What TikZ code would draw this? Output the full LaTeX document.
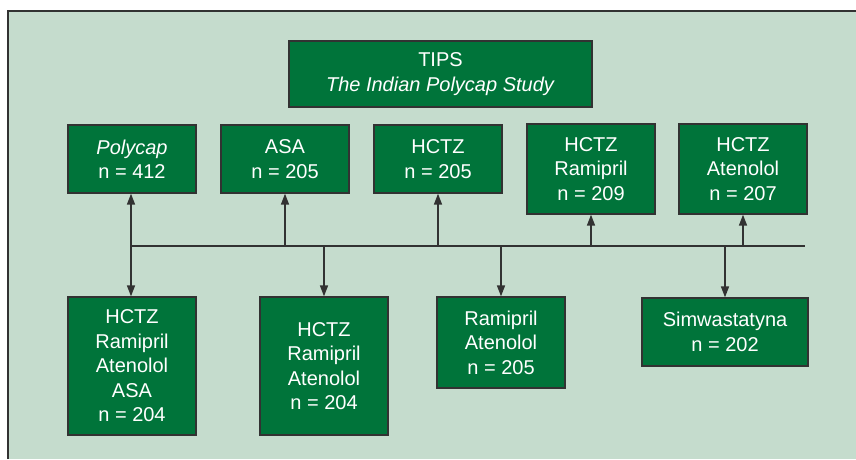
\documentclass[tikz,border=0pt]{standalone}
\usepackage{fontspec}
\setmainfont{Liberation Sans}
\usetikzlibrary{arrows.meta}
\definecolor{bgc}{RGB}{197,220,205}
\definecolor{boxg}{RGB}{0,116,58}
\definecolor{edge}{RGB}{50,50,50}
\tikzset{
  gbox/.style={draw=edge, line width=1.3pt, fill=boxg, text=white, align=center, inner sep=0pt,
    font=\fontsize{20}{24.5}\selectfont, minimum width=128pt},
  conn/.style={draw=edge, line width=1.6pt},
  arr/.style={conn, -{Triangle[length=11pt,width=8pt]}},
  darr/.style={conn, {Triangle[length=11pt,width=8pt]}-{Triangle[length=11pt,width=8pt]}}
}
\begin{document}
\begin{tikzpicture}[x=1pt,y=-1pt]
\useasboundingbox (0,0) rectangle (856,459);
\fill[bgc] (8,11) rectangle (856,459);
\draw[edge, line width=1.2pt] (8,459) -- (8,11) -- (856,11);

\node[gbox, minimum width=303pt, minimum height=66pt] (tips) at (440.5,74) {TIPS\\\textit{The Indian Polycap Study}};

\node[gbox, minimum height=68pt] (p1) at (132,159) {\textit{Polycap}\\n = 412};
\node[gbox, minimum height=68pt] (p2) at (285,159) {ASA\\n = 205};
\node[gbox, minimum height=68pt] (p3) at (438,159) {HCTZ\\n = 205};
\node[gbox, minimum height=90pt] (p4) at (591,169) {HCTZ\\Ramipril\\n = 209};
\node[gbox, minimum height=90pt] (p5) at (743,169) {HCTZ\\Atenolol\\n = 207};

\node[gbox, minimum height=138pt] (b1) at (132,366) {HCTZ\\Ramipril\\Atenolol\\ASA\\n = 204};
\node[gbox, minimum height=138pt] (b2) at (324,366) {HCTZ\\Ramipril\\Atenolol\\n = 204};
\node[gbox, minimum height=91pt] (b3) at (501,342.5) {Ramipril\\Atenolol\\n = 205};
\node[gbox, minimum width=166pt, minimum height=68pt] (b4) at (725,332) {Simwastatyna\\n = 202};

\coordinate (hl) at (131,246);
\coordinate (hr) at (805,246);
\draw[conn] (hl) -- (hr);

\draw[darr] (p1.south -| hl) -- (b1.north -| hl);
\draw[arr] (p2.south |- hl) -- (p2.south);
\draw[arr] (p3.south |- hl) -- (p3.south);
\draw[arr] (p4.south |- hl) -- (p4.south);
\draw[arr] (p5.south |- hl) -- (p5.south);
\draw[arr] (b2.north |- hl) -- (b2.north);
\draw[arr] (b3.north |- hl) -- (b3.north);
\draw[arr] (b4.north |- hl) -- (b4.north);
\end{tikzpicture}
\end{document}
